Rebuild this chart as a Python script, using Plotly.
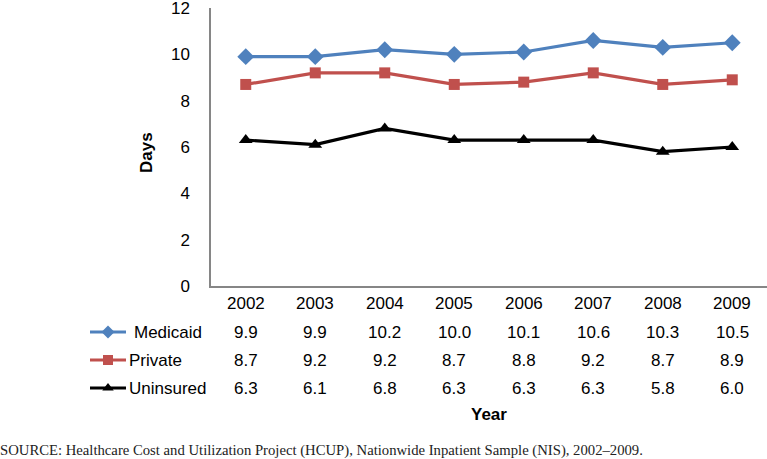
import plotly.graph_objects as go

W, H = 767, 459

years = ["2002", "2003", "2004", "2005", "2006", "2007", "2008", "2009"]
medicaid = [9.9, 9.9, 10.2, 10.0, 10.1, 10.6, 10.3, 10.5]
private = [8.7, 9.2, 9.2, 8.7, 8.8, 9.2, 8.7, 8.9]
uninsured = [6.3, 6.1, 6.8, 6.3, 6.3, 6.3, 5.8, 6.0]
series_names = ["Medicaid", "Private", "Uninsured"]
series_values = [medicaid, private, uninsured]
y_ticks = [0, 2, 4, 6, 8, 10, 12]
source_text = "SOURCE: Healthcare Cost and Utilization Project (HCUP), Nationwide Inpatient Sample (NIS), 2002\u20132009."

colors = ["#4F81BD", "#C0504D", "#000000"]
symbols = ["diamond", "square", "triangle-up"]
msizes = [13, 11, 12]
key_sizes = [10, 10, 10]

FONT = "Liberation Sans, Arial, sans-serif"
FS = 17

def py(p):
    return 1 - p / H

fig = go.Figure()
xi = list(range(len(years)))
for name, vals, c, s, ms in zip(series_names, series_values, colors, symbols, msizes):
    fig.add_trace(go.Scatter(x=xi, y=vals, mode="lines+markers", name=name,
                             line=dict(color=c, width=3.2),
                             marker=dict(symbol=s, size=ms, color=c),
                             showlegend=False, cliponaxis=False))

# legend keys drawn in pixel overlay axes
row_y = [332, 360, 388]
for name, c, s, ms, ry in zip(series_names, colors, symbols, key_sizes, row_y):
    fig.add_trace(go.Scatter(x=[90, 126], y=[ry, ry], mode="lines", xaxis="x2", yaxis="y2",
                             line=dict(color=c, width=3), showlegend=False, hoverinfo="skip"))
    fig.add_trace(go.Scatter(x=[108], y=[ry], mode="markers", xaxis="x2", yaxis="y2",
                             marker=dict(symbol=s, size=ms, color=c), showlegend=False, hoverinfo="skip"))

annotations = []
for i, yr in enumerate(years):
    annotations.append(dict(x=i, y=py(303), xref="x", yref="paper", text=yr, showarrow=False,
                            font=dict(family=FONT, size=FS, color="#000"), xanchor="center", yanchor="middle"))
for vals, ry in zip(series_values, row_y):
    for i, v in enumerate(vals):
        annotations.append(dict(x=i, y=py(ry), xref="x", yref="paper", text=f"{v:.1f}", showarrow=False,
                                font=dict(family=FONT, size=FS, color="#000"), xanchor="center", yanchor="middle"))
label_x = [133, 128, 128]
for name, lx, ry in zip(series_names, label_x, row_y):
    annotations.append(dict(x=lx / W, y=py(ry), xref="paper", yref="paper", text=name, showarrow=False,
                            font=dict(family=FONT, size=FS, color="#000"), xanchor="left", yanchor="middle",
                            xshift=-1))
annotations.append(dict(x=489 / W, y=py(414), xref="paper", yref="paper", text="<b>Year</b>", showarrow=False,
                        font=dict(family=FONT, size=FS, color="#000"), xanchor="center", yanchor="middle"))
annotations.append(dict(x=147 / W, y=py(153), xref="paper", yref="paper", text="<b>Days</b>", showarrow=False,
                        textangle=-90, font=dict(family=FONT, size=FS, color="#000"),
                        xanchor="center", yanchor="middle"))
annotations.append(dict(x=0, y=py(450), xref="paper", yref="paper", text=source_text, showarrow=False,
                        font=dict(family="Liberation Serif, Times New Roman, serif", size=14.7, color="#222"),
                        xanchor="left", yanchor="middle", xshift=-2))

fig.update_layout(
    template="none",
    width=W, height=H, margin=dict(l=0, r=0, t=0, b=0, pad=0),
    paper_bgcolor="white", plot_bgcolor="rgba(0,0,0,0)",
    xaxis=dict(domain=[211 / W, 1], range=[-0.5, 7.5], showgrid=False, zeroline=False, automargin=False,
               showticklabels=False, ticks="", showline=True, linecolor="#868686", linewidth=1.5),
    yaxis=dict(domain=[py(286), py(8)], range=[0, 12], tickvals=y_ticks, showgrid=False, zeroline=False,
               automargin=False, ticklabeloverflow="allow",
               showline=True, linecolor="#868686", linewidth=1.5, ticks="", ticklabelstandoff=16,
               tickfont=dict(family=FONT, size=FS, color="#000")),
    xaxis2=dict(domain=[0, 1], range=[0, W], visible=False, anchor="y2", automargin=False),
    yaxis2=dict(domain=[0, 1], range=[H, 0], visible=False, anchor="x2", automargin=False),
    annotations=annotations,
)

fig.write_html("out.html", config={"displayModeBar": False},
               post_script="document.body.style.margin='0px';document.body.style.overflow='hidden';")
